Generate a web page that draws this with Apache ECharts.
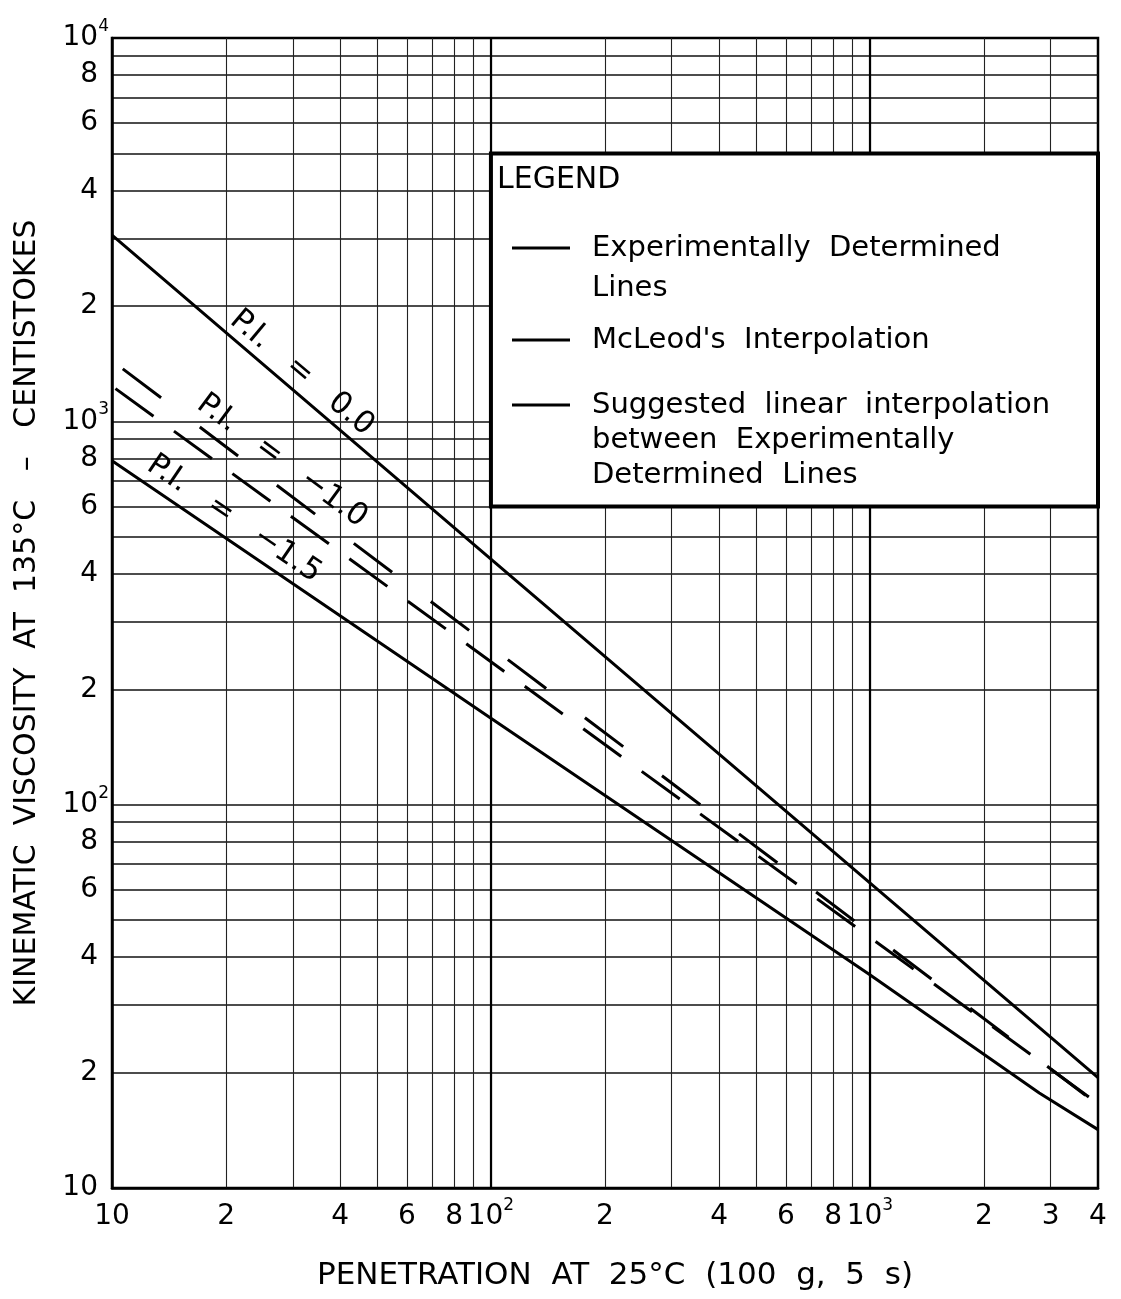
<!DOCTYPE html>
<html>
<head>
<meta charset="utf-8">
<script src="https://cdn.jsdelivr.net/npm/echarts@6/dist/echarts.min.js"></script>
<style>
html,body{margin:0;padding:0;background:#fff;}
#c{width:1121px;height:1299px;}
</style>
</head>
<body>
<div id="c"></div>
<script>
// ---------------- DATA ----------------
// X tick labels (penetration) and Y tick labels (viscosity)
const xTickValues = [10, 20, 40, 60, 80, 100, 200, 400, 600, 800, 1000, 2000, 3000, 4000];
const xTickTexts  = ['10', '2', '4', '6', '8', '10^2', '2', '4', '6', '8', '10^3', '2', '3', '4'];
const yTickValues = [10, 20, 40, 60, 80, 100, 200, 400, 600, 800, 1000, 2000, 4000, 6000, 8000, 10000];
const yTickTexts  = ['10', '2', '4', '6', '8', '10^2', '2', '4', '6', '8', '10^3', '2', '4', '6', '8', '10^4'];
// grid line positions
const xGridValues = [20, 30, 40, 50, 60, 70, 80, 90, 100, 200, 300, 400, 500, 600, 700, 800, 900, 1000, 2000, 3000];
const yGridValues = [20, 30, 40, 50, 60, 70, 80, 90, 100, 200, 300, 400, 500, 600, 700, 800, 900,
                     1000, 2000, 3000, 4000, 5000, 6000, 7000, 8000, 9000];
const xMajorGrid = [100, 1000];

// P.I. = 0.0 (experimentally determined)
const pi00Pen = [10, 100, 1000, 4000];
const pi00Vis = [3060, 437, 62.5, 19.4];
// P.I. = -1.5 (experimentally determined)
const pi15Pen = [10, 100, 1000, 2800, 4000];
const pi15Vis = [789, 168, 36, 17.7, 14.2];
// P.I. = -1.0, McLeod's interpolation
const mcleodPen = [10, 100, 1000, 4000];
const mcleodVis = [1439, 258, 46.4, 16.5];
// P.I. = -1.0, suggested linear interpolation
const linearPen = [10, 100, 1000, 4000];
const linearVis = [1236, 236, 45.1, 16.6];

// line annotations
const piLabels = ['P.I.   =   0.0', 'P.I.   =   \u22121.0', 'P.I.   =   \u22121.5'];
const piLabelPen = [31.7, 28.1, 21.0];
const piLabelVis = [1337, 788, 556];

// legend / axis texts
const legendTitle = 'LEGEND';
const legendEntries = [
  ['Experimentally  Determined', 'Lines'],
  ["McLeod's  Interpolation"],
  ['Suggested  linear  interpolation', 'between  Experimentally', 'Determined  Lines']
];
const legendBox = [[100, 5000], [4000, 600]];
const xTitle = 'PENETRATION  AT  25\u00B0C  (100  g,  5  s)';
const yTitle = 'KINEMATIC  VISCOSITY  AT  135\u00B0C   \u2013   CENTISTOKES';

// ---------------- CHART ----------------
const FONT = '"DejaVu Sans", "Liberation Sans", sans-serif';
const zip = (a, b) => a.map((v, i) => [v, b[i]]);

function lookup(values, texts, v) {
  for (let i = 0; i < values.length; i++) {
    if (Math.abs(Math.log10(v) - Math.log10(values[i])) < 1e-6) return texts[i];
  }
  return '';
}
function richText(t, spacer) {
  if (t.indexOf('^') >= 0) {
    const p = t.split('^');
    return '{n|' + p[0] + '}{s|' + p[1] + '}';
  }
  return '{n|' + t + '}' + (spacer ? '{g| }' : '');
}
const rich = {
  n: { fontSize: 28, lineHeight: 40, fontFamily: FONT, color: '#000' },
  s: { fontSize: 17, lineHeight: 17, verticalAlign: 'top', fontFamily: FONT, color: '#000' },
  g: { width: 11, fontSize: 10 }
};

function piMarkPoint(i, rot) {
  return {
    symbol: 'circle', symbolSize: 1, itemStyle: { color: 'rgba(0,0,0,0)' },
    silent: true,
    label: {
      show: true, position: 'inside', rotate: rot, formatter: piLabels[i],
      fontSize: 31, fontFamily: FONT, color: '#000'
    },
    data: [{ coord: [piLabelPen[i], piLabelVis[i]] }]
  };
}

const graphicEls = [];
graphicEls.push({
  type: 'text', z: 100,
  style: { x: 497, y: 180, text: legendTitle, font: '30px ' + FONT, fill: '#000',
           verticalAlign: 'middle', textVerticalAlign: 'middle' }
});
const entryRowsY = [[248, 288], [340], [405, 440, 475]];
legendEntries.forEach((lines, k) => {
  graphicEls.push({
    type: 'line', z: 100,
    shape: { x1: 512, y1: entryRowsY[k][0], x2: 570, y2: entryRowsY[k][0] },
    style: { stroke: '#000', lineWidth: 3 }
  });
  lines.forEach((ln, j) => {
    graphicEls.push({
      type: 'text', z: 100,
      style: { x: 592, y: entryRowsY[k][j], text: ln, font: '29px ' + FONT, fill: '#000',
               verticalAlign: 'middle', textVerticalAlign: 'middle' }
    });
  });
});

const option = {
  animation: false,
  backgroundColor: '#fff',
  grid: { left: 112, right: 23, top: 38, bottom: 111, show: true, borderColor: '#000', borderWidth: 2.5 },
  xAxis: {
    type: 'log', logBase: 10, min: 10, max: 4000,
    name: xTitle, nameLocation: 'middle', nameGap: 72,
    nameTextStyle: { fontSize: 31, fontFamily: FONT, color: '#000', padding: [0, 0, 0, 20] },
    axisLine: { show: true, lineStyle: { color: '#000', width: 2.5 } },
    axisTick: { show: false, customValues: xGridValues },
    axisLabel: {
      show: true, customValues: xTickValues, margin: 9,
      formatter: v => richText(lookup(xTickValues, xTickTexts, v), false), rich: rich
    },
    splitLine: { show: true, lineStyle: { color: '#222', width: 1.1 } },
    minorSplitLine: { show: false }
  },
  yAxis: {
    type: 'log', logBase: 10, min: 10, max: 10000,
    name: yTitle, nameLocation: 'middle', nameGap: 70,
    nameTextStyle: { fontSize: 30, fontFamily: FONT, color: '#000' },
    axisLine: { show: true, lineStyle: { color: '#000', width: 2.5 } },
    axisTick: { show: false, customValues: yGridValues },
    axisLabel: {
      show: true, customValues: yTickValues, margin: 3,
      formatter: v => richText(lookup(yTickValues, yTickTexts, v), true), rich: rich
    },
    splitLine: { show: true, lineStyle: { color: '#111', width: 1.6 } }
  },
  graphic: { elements: graphicEls },
  series: [
    {
      name: 'major grid', type: 'line', data: [], z: 1, silent: true,
      markLine: {
        z: 1, zlevel: 0,
        symbol: 'none', silent: true, label: { show: false },
        lineStyle: { color: '#000', width: 2.2, type: 'solid' },
        data: xMajorGrid.map(v => ({ xAxis: v }))
      }
    },
    {
      name: 'legend box', type: 'line', data: [], z: 6, silent: true,
      markArea: {
        z: 8, zlevel: 0,
        silent: true, label: { show: false },
        itemStyle: { color: '#fff', borderColor: '#000', borderWidth: 4 },
        data: [[{ coord: legendBox[0] }, { coord: legendBox[1] }]]
      }
    },
    {
      name: 'Experimentally Determined Lines (P.I. = 0.0)', type: 'line', z: 3,
      data: zip(pi00Pen, pi00Vis), symbol: 'none', silent: true,
      lineStyle: { color: '#000', width: 3 },
      markPoint: piMarkPoint(0, -40)
    },
    {
      name: 'Experimentally Determined Lines (P.I. = -1.5)', type: 'line', z: 3,
      data: zip(pi15Pen, pi15Vis), symbol: 'none', silent: true,
      lineStyle: { color: '#000', width: 3 },
      markPoint: piMarkPoint(2, -34.2)
    },
    {
      name: "McLeod's Interpolation (P.I. = -1.0)", type: 'line', z: 3,
      data: zip(mcleodPen, mcleodVis), symbol: 'none', silent: true,
      lineStyle: { color: '#000', width: 3, type: [48, 48.5], dashOffset: 83 },
      markPoint: piMarkPoint(1, -36.4)
    },
    {
      name: 'Suggested linear interpolation (P.I. = -1.0)', type: 'line', z: 3,
      data: zip(linearPen, linearVis), symbol: 'none', silent: true,
      lineStyle: { color: '#000', width: 3, type: [47, 25.3], dashOffset: 68 }
    }
  ]
};

const chart = echarts.init(document.getElementById('c'), null, { renderer: 'canvas' });
chart.setOption(option);
</script>
</body>
</html>
